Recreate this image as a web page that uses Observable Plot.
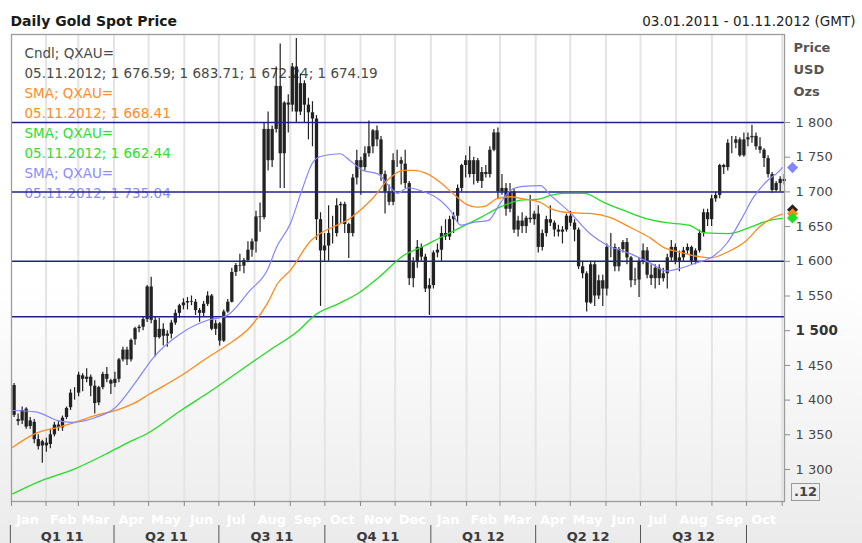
<!DOCTYPE html>
<html><head><meta charset="utf-8">
<script src="https://cdn.jsdelivr.net/npm/d3@7"></script>
<script src="https://cdn.jsdelivr.net/npm/@observablehq/plot@0.6"></script>
<style>
html,body{margin:0;padding:0;background:#fff;}
#wrap{position:relative;width:862px;height:543px;overflow:hidden;background:linear-gradient(to bottom,#ffffff 0%,#ffffff 52%,#ebebeb 100%);font-family:"DejaVu Sans",sans-serif;}
#wrap svg{position:absolute;left:0;top:0;}
#box{position:absolute;z-index:2;left:791px;top:483px;width:27px;height:16px;border:1.5px solid #9a9a9a;font:bold 13px "DejaVu Sans";color:#444;line-height:16px;text-align:center;}
</style></head><body><div id="wrap"><div id="box">.12</div></div>
<script>
// ---- data ----
const title = "Daily Gold Spot Price";
const dateRange = "03.01.2011 - 01.11.2012 (GMT)";
const axisUnits = ["Price", "USD", "Ozs"];
const legendText = ["Cndl; QXAU=", "05.11.2012; 1 676.59; 1 683.71; 1 672.24; 1 674.19",
  "SMA; QXAU=", "05.11.2012; 1 668.41", "SMA; QXAU=", "05.11.2012; 1 662.44",
  "SMA; QXAU=", "05.11.2012; 1 735.04"];
const lastValues = {cndl: 1674.19, mid: 1668.41, slow: 1662.44, fast: 1735.04};
const yTicks = [1300, 1350, 1400, 1450, 1500, 1550, 1600, 1650, 1700, 1750, 1800];
const levels = [1800, 1700, 1600, 1520];
const quarterStarts = ["2011-01-01","2011-04-01","2011-07-01","2011-10-01","2012-01-01","2012-04-01","2012-07-01","2012-10-01"];
const quarterLabels = ["Q1 11","Q2 11","Q3 11","Q4 11","Q1 12","Q2 12","Q3 12"];
const firstMonday = "2011-01-03";
// half-week candles [open, high, low, close]: Mon-Wed, Thu-Fri of each week
const candles = [
[1421,1424,1375,1378],[1372,1380,1363,1369],[1370,1390,1365,1385],[1387,1389,1358,1361],
[1362,1375,1358,1370],[1368,1372,1337,1343],[1343,1350,1328,1333],[1334,1342,1309,1340],
[1338,1345,1325,1334],[1336,1358,1330,1350],[1350,1368,1347,1364],[1364,1370,1355,1360],
[1360,1377,1355,1374],[1375,1390,1372,1388],[1389,1415,1385,1410],[1410,1418,1400,1410],
[1410,1440,1405,1436],[1435,1438,1412,1430],[1430,1445,1425,1433],[1433,1436,1405,1420],
[1420,1428,1380,1395],[1396,1420,1392,1418],[1418,1440,1415,1437],[1437,1447,1425,1430],
[1428,1430,1408,1423],[1424,1440,1418,1430],[1430,1460,1425,1458],[1458,1476,1455,1472],
[1472,1476,1450,1458],[1458,1488,1455,1486],[1487,1505,1479,1503],[1503,1508,1497,1505],
[1505,1520,1500,1516],[1516,1565,1512,1563],[1563,1577,1510,1515],[1515,1520,1462,1490],
[1490,1518,1488,1502],[1502,1510,1478,1492],[1492,1500,1476,1495],[1495,1515,1488,1511],
[1511,1530,1508,1525],[1525,1538,1518,1536],[1536,1546,1530,1540],[1540,1548,1530,1542],
[1542,1550,1536,1541],[1541,1545,1522,1529],[1529,1532,1512,1525],[1525,1542,1520,1538],
[1538,1556,1535,1550],[1550,1552,1500,1502],[1502,1515,1493,1510],[1510,1512,1478,1485],
[1485,1530,1483,1527],[1527,1545,1525,1541],[1541,1590,1540,1584],[1584,1597,1578,1594],
[1594,1610,1585,1593],[1593,1604,1582,1601],[1601,1628,1598,1616],[1616,1632,1606,1628],
[1628,1672,1612,1664],[1664,1684,1642,1663],[1663,1800,1660,1790],[1790,1815,1730,1745],
[1745,1795,1735,1790],[1790,1880,1785,1852],[1852,1913,1705,1755],[1755,1830,1705,1828],
[1828,1840,1785,1825],[1825,1885,1815,1880],[1880,1921,1800,1815],[1815,1870,1810,1856],
[1856,1860,1800,1825],[1825,1835,1775,1814],[1814,1830,1765,1805],[1805,1810,1630,1660],
[1660,1670,1535,1615],[1615,1640,1600,1622],[1622,1680,1600,1640],[1640,1665,1625,1640],
[1640,1690,1635,1680],[1680,1685,1655,1682],[1682,1685,1640,1653],[1653,1655,1604,1640],
[1640,1725,1635,1720],[1720,1760,1710,1745],[1745,1750,1695,1735],[1735,1765,1730,1755],
[1755,1802,1750,1765],[1765,1790,1755,1788],[1788,1795,1765,1775],[1775,1780,1715,1725],
[1725,1730,1668,1700],[1700,1710,1680,1685],[1685,1755,1680,1745],[1745,1760,1735,1745],
[1745,1750,1710,1740],[1740,1760,1705,1712],[1712,1715,1565,1575],[1575,1605,1562,1598],
[1598,1630,1590,1620],[1620,1625,1600,1606],[1606,1610,1555,1560],[1560,1575,1522,1565],
[1565,1615,1560,1612],[1612,1625,1605,1616],[1616,1650,1600,1640],[1640,1660,1630,1635],
[1635,1665,1630,1660],[1660,1670,1640,1665],[1665,1710,1655,1705],[1705,1740,1700,1738],
[1738,1752,1720,1745],[1745,1765,1720,1725],[1725,1750,1710,1745],[1745,1748,1712,1715],
[1715,1735,1705,1728],[1728,1738,1720,1725],[1725,1765,1720,1760],[1760,1790,1758,1785],
[1785,1792,1690,1700],[1700,1725,1695,1705],[1705,1712,1665,1675],[1675,1712,1670,1700],
[1700,1705,1640,1645],[1645,1665,1635,1658],[1658,1670,1640,1650],[1650,1665,1640,1662],
[1662,1695,1655,1660],[1660,1672,1652,1668],[1668,1680,1612,1620],[1620,1645,1615,1640],
[1640,1665,1635,1660],[1660,1680,1650,1655],[1655,1658,1635,1645],[1645,1652,1635,1642],
[1642,1650,1625,1645],[1645,1668,1642,1665],[1665,1672,1650,1655],[1655,1660,1628,1645],
[1645,1648,1588,1592],[1592,1600,1575,1582],[1582,1585,1527,1540],[1540,1600,1538,1595],
[1595,1600,1535,1550],[1550,1580,1545,1572],[1572,1580,1535,1560],[1560,1625,1550,1620],
[1620,1640,1605,1620],[1620,1625,1585,1592],[1592,1620,1585,1617],[1617,1630,1612,1627],
[1627,1633,1595,1605],[1605,1607,1562,1572],[1572,1590,1565,1573],[1573,1605,1548,1600],
[1600,1625,1595,1615],[1615,1620,1575,1580],[1580,1595,1565,1575],[1575,1595,1560,1590],
[1590,1595,1565,1575],[1575,1590,1570,1582],[1582,1610,1560,1605],[1605,1630,1600,1620],
[1620,1625,1595,1600],[1600,1615,1585,1605],[1605,1620,1600,1615],[1615,1625,1610,1620],
[1620,1622,1595,1600],[1600,1618,1595,1615],[1615,1645,1612,1640],[1640,1675,1635,1670],
[1670,1675,1650,1660],[1660,1695,1650,1690],[1690,1700,1685,1695],[1695,1740,1690,1738],
[1738,1740,1725,1735],[1735,1775,1730,1770],[1770,1780,1755,1770],[1770,1780,1762,1775],
[1775,1778,1750,1752],[1752,1785,1750,1775],[1775,1785,1765,1778],[1778,1796,1770,1780],
[1780,1785,1760,1765],[1765,1778,1755,1760],[1760,1762,1735,1748],[1748,1752,1720,1725],
[1725,1728,1698,1702],[1702,1715,1700,1712],[1712,1722,1700,1718],[1718,1725,1710,1715]
];
const smaFast = [["2011-01-03",1385],["2011-01-23",1383],["2011-02-12",1370],["2011-02-23",1368],["2011-03-16",1375],["2011-04-02",1389],["2011-04-19",1424],["2011-05-05",1461],["2011-05-29",1496],["2011-06-21",1515],["2011-07-08",1522],["2011-07-28",1558],["2011-08-12",1587],["2011-08-20",1620],["2011-09-01",1654],["2011-09-11",1702],["2011-09-20",1741],["2011-09-27",1751],["2011-10-14",1755],["2011-10-23",1745],["2011-11-03",1731],["2011-11-16",1726],["2011-11-27",1706],["2011-12-03",1698],["2011-12-12",1706],["2011-12-23",1702],["2012-01-09",1688],["2012-01-18",1673],["2012-01-27",1652],["2012-02-07",1656],["2012-02-20",1659],["2012-03-01",1683],["2012-03-10",1702],["2012-03-21",1708],["2012-04-05",1709],["2012-04-14",1695],["2012-05-01",1670],["2012-05-18",1640],["2012-06-02",1623],["2012-06-22",1611],["2012-07-10",1597],["2012-07-23",1586],["2012-08-05",1590],["2012-08-19",1598],["2012-08-31",1605],["2012-09-14",1626],["2012-09-26",1659],["2012-10-07",1692],["2012-10-19",1716],["2012-10-30",1731],["2012-11-01",1735]];
const smaMid = [["2011-01-03",1332],["2011-01-23",1352],["2011-02-12",1361],["2011-02-26",1368],["2011-03-16",1378],["2011-04-02",1385],["2011-04-19",1396],["2011-05-01",1408],["2011-05-29",1435],["2011-06-21",1461],["2011-07-08",1479],["2011-07-28",1505],["2011-08-12",1539],["2011-08-21",1568],["2011-09-01",1587],["2011-09-19",1630],["2011-09-27",1640],["2011-10-23",1662],["2011-11-10",1688],["2011-11-27",1721],["2011-12-08",1731],["2011-12-17",1731],["2011-12-29",1726],["2012-01-09",1714],["2012-01-20",1698],["2012-02-01",1682],["2012-02-10",1678],["2012-02-18",1680],["2012-02-27",1690],["2012-03-10",1693],["2012-03-21",1690],["2012-04-05",1685],["2012-04-14",1676],["2012-05-01",1670],["2012-05-18",1669],["2012-06-05",1663],["2012-06-22",1649],["2012-07-10",1633],["2012-07-21",1620],["2012-08-05",1613],["2012-08-19",1607],["2012-08-31",1605],["2012-09-14",1613],["2012-10-01",1630],["2012-10-12",1649],["2012-10-23",1662],["2012-11-01",1668]];
const smaSlow = [["2011-01-03",1265],["2011-01-28",1284],["2011-02-26",1301],["2011-03-27",1324],["2011-04-11",1337],["2011-05-01",1353],["2011-05-29",1385],["2011-06-24",1413],["2011-07-20",1443],["2011-08-15",1473],["2011-09-08",1500],["2011-09-22",1522],["2011-10-13",1539],["2011-10-31",1555],["2011-11-17",1577],["2011-12-08",1608],["2011-12-26",1622],["2012-01-09",1634],["2012-01-27",1649],["2012-02-13",1663],["2012-03-01",1678],["2012-03-19",1688],["2012-04-05",1690],["2012-04-14",1695],["2012-04-25",1698],["2012-05-13",1698],["2012-05-30",1685],["2012-06-17",1673],["2012-07-05",1662],["2012-07-22",1656],["2012-08-12",1652],["2012-08-26",1641],["2012-09-16",1640],["2012-10-04",1649],["2012-10-21",1659],["2012-11-01",1662]];

// ---- styles ----
const C = {cndl: "#222222", mid: "#ff8a1c", slow: "#22dd22", fast: "#8585ff", level: "#20208c", grid: "#e4e4e4", frame: "#9c9c9c", text: "#474747"};
const legendColors = ["#4a4a4a","#4a4a4a","#ff8c26","#ff8c26","#2ee02e","#2ee02e","#8c8cff","#8c8cff"];

// ---- build ----
const day = 864e5;
const t0 = new Date(firstMonday);
const bars = candles.map(([o, h, l, c], i) => ({
  date: new Date(+t0 + (Math.floor(i / 2) * 7 + (i % 2 ? 4.75 : 1.25)) * day),
  open: o, high: h, low: l, close: c
}));
const P = d => ({date: new Date(d[0]), v: d[1]});
const xDomain = [new Date("2011-01-02"), new Date("2012-11-03")];
const monthStarts = d3.utcMonth.range(new Date("2011-02-01"), new Date("2012-11-02"));
const monthMids = d3.utcMonth.range(new Date("2011-01-01"), new Date("2012-11-01")).map(d => new Date(+d + 15 * day));
const qStarts = quarterStarts.map(d => new Date(d));
const qMids = quarterLabels.map((q, i) => ({q, date: new Date((+qStarts[i] + +qStarts[i + 1]) / 2)}));
const fmt = d => d3.format(",")(d).replace(",", " ");

const legendMarks = legendText.map((t, i) => Plot.text([t], {
  text: d => d, frameAnchor: "top-left", dx: 13, dy: 23 + 20 * i, lineAnchor: "bottom",
  textAnchor: "start", fill: legendColors[i], fontSize: 13.5
}));
const unitMarks = axisUnits.map((t, i) => Plot.text([t], {
  text: d => d, frameAnchor: "top-right", dx: 9, dy: 17 + 22 * i, lineAnchor: "bottom",
  textAnchor: "start", fill: "#555", fontWeight: "bold", fontSize: 13
}));
const endDot = (v, color) => Plot.dot([v], {y: d => d, frameAnchor: "right", dx: 8, symbol: "diamond2", r: 5, fill: color});

const chart = Plot.plot({
  width: 862, height: 543,
  marginTop: 34, marginBottom: 42, marginLeft: 11, marginRight: 78,
  x: {type: "utc", domain: xDomain, axis: null},
  y: {domain: [1253.9, 1926.8], axis: null},
  style: {background: "transparent", fontFamily: "DejaVu Sans", fontSize: "13px", overflow: "visible"},
  marks: [
    Plot.ruleX(monthStarts, {stroke: C.grid, strokeWidth: 2}),
    ...legendMarks,
    Plot.ruleX(bars, {x: "date", y1: "low", y2: "high", stroke: C.cndl, strokeWidth: 1.2}),
    Plot.ruleX(bars, {x: "date", y1: "open", y2: "close", stroke: C.cndl, strokeWidth: 3.3}),
    Plot.ruleY(levels, {stroke: C.level, strokeWidth: 1.5}),
    Plot.line(smaSlow.map(P), {x: "date", y: "v", stroke: C.slow, strokeWidth: 1.3, curve: "monotone-x"}),
    Plot.line(smaMid.map(P), {x: "date", y: "v", stroke: C.mid, strokeWidth: 1.3, curve: "monotone-x"}),
    Plot.line(smaFast.map(P), {x: "date", y: "v", stroke: C.fast, strokeWidth: 1.2, curve: "monotone-x"}),
    Plot.frame({stroke: C.frame, strokeWidth: 1.3}),
    Plot.axisY({anchor: "right", ticks: yTicks.filter(t => t !== 1500), tickSize: 5, tickPadding: 6,
      tickFormat: fmt, stroke: "#8a8a8a", fill: C.text, fontSize: 13, label: null}),
    Plot.axisY({anchor: "right", ticks: [1500], tickSize: 5, tickPadding: 6,
      tickFormat: fmt, stroke: "#8a8a8a", fill: "#333", fontSize: 13.5, fontWeight: "bold", label: null}),
    Plot.axisX({anchor: "bottom", ticks: [xDomain[0], ...monthStarts], tickSize: 5, tickFormat: () => "", stroke: "#8a8a8a", label: null}),
    Plot.text(monthMids, {x: d => d, text: d3.utcFormat("%b"), frameAnchor: "bottom", dy: 22, lineAnchor: "bottom",
      fill: "#ffffff", fontWeight: "bold", fontSize: 13}),
    Plot.axisX({anchor: "bottom", ticks: qStarts, tickSize: 18, dy: 24, tickFormat: () => "", stroke: "#555", label: null}),
    Plot.text(qMids, {x: "date", text: "q", frameAnchor: "bottom", dy: 39, lineAnchor: "bottom",
      fill: "#3a3a3a", fontWeight: "bold", fontSize: 13}),
    ...unitMarks,
    endDot(lastValues.cndl, C.cndl),
    endDot(lastValues.mid, C.mid),
    endDot(lastValues.slow, C.slow),
    endDot(lastValues.fast, C.fast),
    Plot.text([title], {text: d => d, frameAnchor: "top-left", dx: -1, dy: -9, lineAnchor: "bottom",
      textAnchor: "start", fill: "#1a1a1a", fontWeight: "bold", fontSize: 14}),
    Plot.text([dateRange], {text: d => d, frameAnchor: "top-right", dx: 71, dy: -9, lineAnchor: "bottom",
      textAnchor: "end", fill: "#222", fontSize: 13.5})
  ]
});
document.getElementById("wrap").prepend(chart);
</script></body></html>
